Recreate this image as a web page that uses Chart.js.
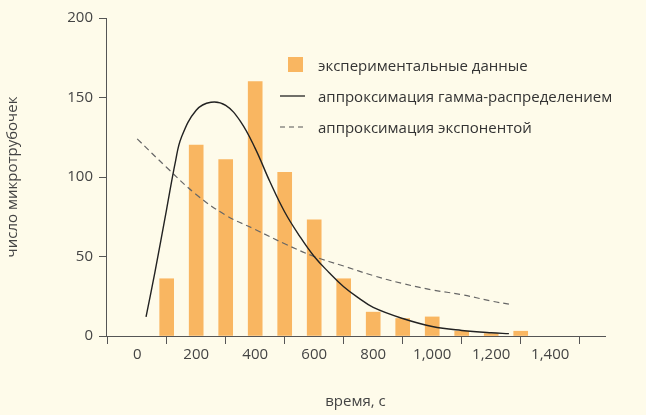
<!DOCTYPE html>
<html><head><meta charset="utf-8">
<script src="https://cdn.jsdelivr.net/npm/chart.js@4/dist/chart.umd.min.js"></script>
<style>
html,body{margin:0;padding:0;background:#fefbea;}
#wrap{position:relative;width:646px;height:415px;}
.lg{position:absolute;left:318px;font:15px "Open Sans",sans-serif;color:#333;white-space:nowrap;line-height:20px;}
</style></head><body>
<div id="wrap"><canvas id="c" width="646" height="415"></canvas>
<div class="lg" style="top:55px">экспериментальные данные</div>
<div class="lg" style="top:86px">аппроксимация гамма-распределением</div>
<div class="lg" style="top:117px">аппроксимация экспонентой</div>
<svg style="position:absolute;left:278px;top:55px" width="32" height="80">
<rect x="10" y="2" width="15" height="15" fill="#f9b661"/>
<line x1="2" y1="41" x2="27" y2="41" stroke="#222" stroke-width="1.3"/>
<line x1="2" y1="72" x2="27" y2="72" stroke="#555" stroke-width="1.2" stroke-dasharray="5,4"/>
</svg>
</div>
<script>
const binCenters=[100,200,300,400,500,600,700,800,900,1000,1100,1200,1300];
const counts=[36,120,111,160,103,73,36,15,11,12,3,1.5,3];
const gammaX=[30,60,100,130,150,200,250,300,350,400,450,500,550,600,650,700,750,800,900,1000,1100,1200,1260];
const gammaY=[12,40,80,110,125,142,147,145,135,118,97,78,63,50,40,31,24,18,11,6,3.5,2,1.5];
const expX=[0,100,200,300,400,500,600,700,800,900,1000,1100,1200,1260];
const expY=[124,106,89,76,67,58,50,44,38,33,29,26,22,20];
const xTicks=[0,200,400,600,800,1000,1200,1400];
const yTicks=[0,50,100,150,200];
const font={family:'"Open Sans",sans-serif',size:15};
Chart.defaults.color='#444';
new Chart(document.getElementById('c'),{
 data:{datasets:[
  {type:'bar',data:binCenters.map((x,i)=>({x,y:counts[i]})),backgroundColor:'#f9b661',barThickness:14,order:3},
  {type:'line',data:gammaX.map((x,i)=>({x,y:gammaY[i]})),borderColor:'#222',borderWidth:1.4,pointRadius:0,tension:0.4,fill:false,order:1},
  {type:'line',data:expX.map((x,i)=>({x,y:expY[i]})),borderColor:'#666',borderWidth:1.2,borderDash:[6,4],pointRadius:0,tension:0.4,fill:false,order:2}
 ]},
 options:{responsive:false,animation:false,
  layout:{padding:{top:18,right:41,left:0,bottom:0}},
  plugins:{legend:{display:false},tooltip:{enabled:false}},
  scales:{
   x:{type:'linear',min:0,max:1480,
    afterBuildTicks:s=>{s.ticks=xTicks.map(v=>({value:v}));},
    afterFit:s=>{s.height=79;},
    grid:{drawOnChartArea:false,drawTicks:true,tickLength:8,color:'#555'},
    border:{color:'#555',width:1},
    ticks:{font,color:'#444',padding:2},
    title:{display:true,text:'время, с',font,color:'#444',padding:{top:18}}},
   y:{min:0,max:200,
    afterBuildTicks:s=>{s.ticks=yTicks.map(v=>({value:v}));},
    afterFit:s=>{s.width=106;},
    grid:{drawOnChartArea:false,drawTicks:true,tickLength:7,color:'#555'},
    border:{color:'#555',width:1},
    ticks:{font,color:'#444',padding:6},
    title:{display:true,text:'число микротрубочек',font,color:'#444',padding:{bottom:0}}}
  }}
});
</script></body></html>
